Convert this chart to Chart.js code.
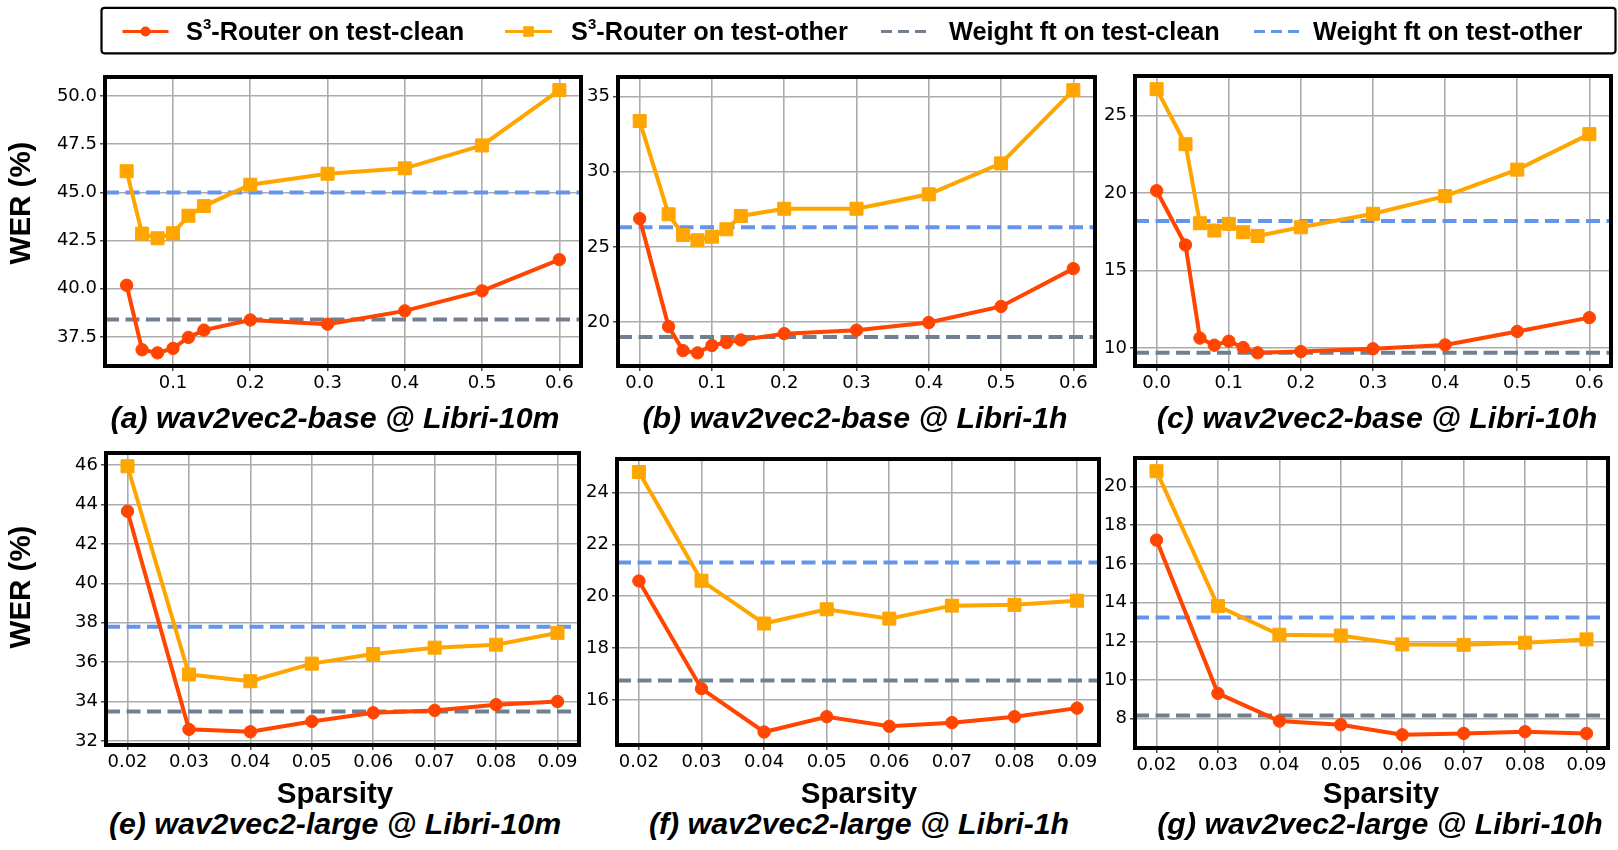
<!DOCTYPE html>
<html><head><meta charset="utf-8">
<script src="https://cdn.jsdelivr.net/npm/chart.js@4.4.1/dist/chart.umd.min.js"></script>
<style>
html,body{margin:0;padding:0;background:#fff;overflow:hidden;}
body{width:1618px;height:850px;position:relative;}
.t{position:absolute;font-family:"Liberation Sans",Arial,sans-serif;font-weight:bold;color:#000;white-space:nowrap;line-height:1;}
.cap{font-style:italic;font-size:30.3px;transform:translateX(-50%);}
.lab{font-size:29.5px;transform:translateX(-50%);}
.leg{font-size:25.3px;}
.leg sup{font-size:15px;vertical-align:11px;line-height:0;}
canvas{position:absolute;}
svg{position:absolute;left:0;top:0;}
</style></head><body>
<script>
// ---------- data ----------
const xsBase10m = [0.04, 0.06, 0.08, 0.10, 0.12, 0.14, 0.20, 0.30, 0.40, 0.50, 0.60];
const xsBase    = [0.00, 0.04, 0.06, 0.08, 0.10, 0.12, 0.14, 0.20, 0.30, 0.40, 0.50, 0.60];
const xsLarge   = [0.02, 0.03, 0.04, 0.05, 0.06, 0.07, 0.08, 0.09];

const aClean = [40.18, 36.83, 36.67, 36.90, 37.47, 37.85, 38.38, 38.16, 38.85, 39.89, 41.51];
const aOther = [46.10, 42.86, 42.62, 42.88, 43.79, 44.29, 45.40, 45.97, 46.25, 47.44, 50.31];
const aWeightClean = 38.4, aWeightOther = 45.0;

const bClean = [26.88, 19.69, 18.09, 17.94, 18.43, 18.63, 18.80, 19.22, 19.45, 19.96, 21.03, 23.55];
const bOther = [33.38, 27.17, 25.79, 25.44, 25.68, 26.17, 27.06, 27.54, 27.54, 28.50, 30.56, 35.44];
const bWeightClean = 19.0, bWeightOther = 26.3;

const cClean = [20.16, 16.66, 10.65, 10.19, 10.45, 10.04, 9.70, 9.78, 9.96, 10.21, 11.08, 11.97];
const cOther = [26.71, 23.16, 18.06, 17.59, 18.02, 17.48, 17.24, 17.80, 18.67, 19.81, 21.52, 23.81];
const cWeightClean = 9.7, cWeightOther = 18.2;

const eClean = [43.65, 32.60, 32.48, 33.00, 33.44, 33.56, 33.85, 34.01];
const eOther = [45.93, 35.38, 35.04, 35.93, 36.42, 36.74, 36.89, 37.49];
const eWeightClean = 33.5, eWeightOther = 37.8;

const fClean = [20.59, 16.44, 14.77, 15.36, 14.99, 15.13, 15.36, 15.69];
const fOther = [24.79, 20.60, 18.95, 19.50, 19.14, 19.64, 19.67, 19.83];
const fWeightClean = 16.75, fWeightOther = 21.3;

const gClean = [17.23, 9.31, 7.88, 7.69, 7.17, 7.24, 7.33, 7.24];
const gOther = [20.79, 13.82, 12.34, 12.30, 11.84, 11.82, 11.93, 12.10];
const gWeightClean = 8.17, gWeightOther = 13.23;

const xTicksBase  = [0.0, 0.1, 0.2, 0.3, 0.4, 0.5, 0.6];
const xTicksLarge = [0.02, 0.03, 0.04, 0.05, 0.06, 0.07, 0.08, 0.09];
const yTicksA = [37.5, 40.0, 42.5, 45.0, 47.5, 50.0];
const yTicksB = [20, 25, 30, 35];
const yTicksC = [10, 15, 20, 25];
const yTicksE = [32, 34, 36, 38, 40, 42, 44, 46];
const yTicksF = [16, 18, 20, 22, 24];
const yTicksG = [8, 10, 12, 14, 16, 18, 20];

const seriesLabels = ['S<sup>3</sup>-Router on test-clean', 'S<sup>3</sup>-Router on test-other',
                      'Weight ft on test-clean', 'Weight ft on test-other'];
const captions = ['(a) wav2vec2-base @ Libri-10m', '(b) wav2vec2-base @ Libri-1h', '(c) wav2vec2-base @ Libri-10h',
                  '(e) wav2vec2-large @ Libri-10m', '(f) wav2vec2-large @ Libri-1h', '(g) wav2vec2-large @ Libri-10h'];
const yTitle = 'WER (%)';
const xTitle = 'Sparsity';

// ---------- style ----------
const RED = '#FF4500', ORANGE = '#FFA500', GRAY = '#708090', BLUE = '#6495ED';

const panels = [
  {xs: xsBase10m, clean: aClean, other: aOther, wc: aWeightClean, wo: aWeightOther, xt: xTicksBase, yt: yTicksA, xd: 1, yd: 1, box: [105, 77, 581, 366]},
  {xs: xsBase, clean: bClean, other: bOther, wc: bWeightClean, wo: bWeightOther, xt: xTicksBase, yt: yTicksB, xd: 1, yd: 0, box: [618, 77, 1095, 366]},
  {xs: xsBase, clean: cClean, other: cOther, wc: cWeightClean, wo: cWeightOther, xt: xTicksBase, yt: yTicksC, xd: 1, yd: 0, box: [1135, 76, 1611, 366]},
  {xs: xsLarge, clean: eClean, other: eOther, wc: eWeightClean, wo: eWeightOther, xt: xTicksLarge, yt: yTicksE, xd: 2, yd: 0, box: [106, 453, 579, 745]},
  {xs: xsLarge, clean: fClean, other: fOther, wc: fWeightClean, wo: fWeightOther, xt: xTicksLarge, yt: yTicksF, xd: 2, yd: 0, box: [617, 459, 1099, 745]},
  {xs: xsLarge, clean: gClean, other: gOther, wc: gWeightClean, wo: gWeightOther, xt: xTicksLarge, yt: yTicksG, xd: 2, yd: 0, box: [1135, 458, 1608, 748]},
];

const framePlugin = {
  id: 'frame',
  afterDatasetsDraw(chart) {
    const {ctx, chartArea: a} = chart;
    ctx.save();
    ctx.strokeStyle = '#000';
    ctx.lineWidth = 4;
    ctx.strokeRect(a.left, a.top, a.right - a.left, a.bottom - a.top);
    ctx.restore();
  }
};

function range(vals) {
  let lo = Math.min(...vals), hi = Math.max(...vals), r = hi - lo;
  return [lo - 0.05 * r, hi + 0.05 * r];
}

function makeChart(p) {
  const PADL = 100, PADT = 20, PADR = 30, PADB = 50;
  const [L, T, R, B] = p.box;
  const w = R - L + PADL + PADR, h = B - T + PADT + PADB;
  const c = document.createElement('canvas');
  c.width = w; c.height = h;
  c.style.left = (L - PADL) + 'px'; c.style.top = (T - PADT) + 'px';
  c.style.width = w + 'px'; c.style.height = h + 'px';
  document.body.appendChild(c);

  const [ymin, ymax] = range([...p.clean, ...p.other, p.wc, p.wo]);
  const [xmin, xmax] = range(p.xs);
  const pts = arr => p.xs.map((x, i) => ({x: x, y: arr[i]}));
  const hline = v => [{x: xmin, y: v}, {x: xmax, y: v}];
  const tickFont = {family: 'DejaVu Sans', size: 18};

  new Chart(c, {
    type: 'line',
    data: {datasets: [
      {data: pts(p.other), borderColor: ORANGE, backgroundColor: ORANGE, pointBackgroundColor: ORANGE,
       pointBorderColor: ORANGE, borderWidth: 4, pointStyle: 'rect', pointRadius: 9.2, pointBorderWidth: 1,
       tension: 0, order: 0},
      {data: pts(p.clean), borderColor: RED, backgroundColor: RED, pointBackgroundColor: RED,
       pointBorderColor: RED, borderWidth: 4, pointStyle: 'circle', pointRadius: 6.2, pointBorderWidth: 1,
       tension: 0, order: 1},
      {data: hline(p.wc), borderColor: GRAY, borderDash: [14, 6.5], borderWidth: 4, pointRadius: 0, order: 2},
      {data: hline(p.wo), borderColor: BLUE, borderDash: [14, 6.5], borderWidth: 4, pointRadius: 0, order: 2},
    ]},
    options: {
      responsive: false, animation: false,
      layout: {padding: {left: 0, top: PADT, right: PADR, bottom: 0}},
      plugins: {legend: {display: false}, tooltip: {enabled: false}},
      elements: {line: {borderCapStyle: 'butt'}},
      scales: {
        x: {
          type: 'linear', min: xmin, max: xmax,
          afterBuildTicks: s => { s.ticks = p.xt.filter(v => v >= xmin && v <= xmax).map(v => ({value: v})); },
          afterFit: s => { s.height = PADB; },
          ticks: {font: tickFont, color: '#000', padding: 2, maxRotation: 0, autoSkip: false,
                  callback: v => Number(v).toFixed(p.xd)},
          grid: {color: '#ababab', lineWidth: 1.6, tickLength: 5, tickColor: '#222', tickWidth: 1.2},
          border: {display: false}
        },
        y: {
          type: 'linear', min: ymin, max: ymax,
          afterBuildTicks: s => { s.ticks = p.yt.filter(v => v >= ymin && v <= ymax).map(v => ({value: v})); },
          afterFit: s => { s.width = PADL; },
          ticks: {font: tickFont, color: '#000', padding: 3, autoSkip: false,
                  callback: v => Number(v).toFixed(p.yd)},
          grid: {color: '#ababab', lineWidth: 1.6, tickLength: 5, tickColor: '#222', tickWidth: 1.2},
          border: {display: false}
        }
      }
    },
    plugins: [framePlugin]
  });
}

panels.forEach(makeChart);

// ---------- text ----------
function addText(cls, html, left, top, extra) {
  const d = document.createElement('div');
  d.className = 't ' + cls;
  d.innerHTML = html;
  d.style.left = left + 'px';
  d.style.top = top + 'px';
  if (extra) Object.assign(d.style, extra);
  document.body.appendChild(d);
  return d;
}

const capX = [335, 855, 1377, 335, 859, 1380];
const capTop = [403, 403, 403, 809, 809, 809];
captions.forEach((t, i) => addText('cap', t, capX[i], capTop[i]));
[335, 859, 1381].forEach(x => addText('lab', xTitle, x, 777.5));
[203, 587].forEach(y => addText('', yTitle, 19.5, y,
  {fontSize: '29.5px', transform: 'translate(-50%,-50%) rotate(-90deg)'}));

// ---------- legend ----------
const svgNS = 'http://www.w3.org/2000/svg';
const svg = document.createElementNS(svgNS, 'svg');
svg.setAttribute('width', 1618); svg.setAttribute('height', 60);
svg.innerHTML =
  '<rect x="101.5" y="7.8" width="1514" height="45.5" rx="3" fill="#fff" stroke="#000" stroke-width="2.2"/>' +
  `<line x1="122.5" y1="31.5" x2="168.5" y2="31.5" stroke="${RED}" stroke-width="3"/>` +
  `<circle cx="145.5" cy="31.5" r="5" fill="${RED}"/>` +
  `<line x1="505" y1="31.5" x2="552" y2="31.5" stroke="${ORANGE}" stroke-width="3"/>` +
  `<rect x="523.2" y="26.2" width="10.6" height="10.6" fill="${ORANGE}"/>` +
  `<line x1="881" y1="31.5" x2="927" y2="31.5" stroke="${GRAY}" stroke-width="3" stroke-dasharray="11,6"/>` +
  `<line x1="1254" y1="31.5" x2="1300" y2="31.5" stroke="${BLUE}" stroke-width="3" stroke-dasharray="11,6"/>`;
document.body.appendChild(svg);
const legX = [186, 571, 949, 1313];
seriesLabels.forEach((t, i) => addText('leg', t, legX[i], 18.8));
</script>
</body></html>
